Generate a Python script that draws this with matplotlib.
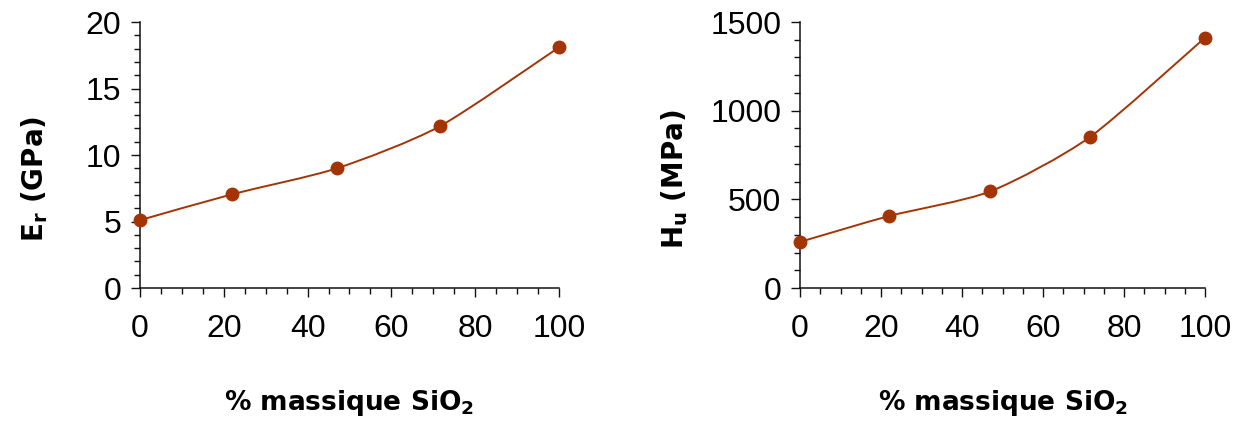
import numpy as np
import matplotlib
matplotlib.use("Agg")
from matplotlib import pyplot as plt
from matplotlib.path import Path
from matplotlib.patches import PathPatch
from matplotlib.ticker import MultipleLocator

# data
sio2 = [0, 22, 47, 71.5, 100]
er_gpa = [5.1, 7.05, 9.0, 12.15, 18.1]
hu_mpa = [260, 406, 545, 850, 1412]

line_color = '#A33505'


def smooth_path(x, y, k=0.12):
    # excel-like smoothed line: cubic bezier segments through the points
    pts = np.column_stack([x, y]).astype(float)
    ext = np.vstack([pts[0], pts, pts[-1]])
    verts = [pts[0]]
    codes = [Path.MOVETO]
    for i in range(1, len(ext) - 2):
        p0, p1, p2, p3 = ext[i - 1], ext[i], ext[i + 1], ext[i + 2]
        c1 = p1 + (p2 - p0) * k
        c2 = p2 - (p3 - p1) * k
        verts += [c1, c2, p2]
        codes += [Path.CURVE4] * 3
    return Path(verts, codes)


def draw_panel(ax, x, y, ymax, ymajor, yminor, ylabel):
    patch = PathPatch(smooth_path(x, y), fill=False, edgecolor=line_color, lw=1.4)
    ax.add_patch(patch)
    ax.plot(x, y, 'o', color=line_color, ms=9, clip_on=False, zorder=3)

    ax.set_xlim(0, 100)
    ax.set_ylim(0, ymax)
    ax.xaxis.set_major_locator(MultipleLocator(20))
    ax.xaxis.set_minor_locator(MultipleLocator(5))
    ax.yaxis.set_major_locator(MultipleLocator(ymajor))
    ax.yaxis.set_minor_locator(MultipleLocator(yminor))

    for side in ['top', 'right']:
        ax.spines[side].set_visible(False)
    for side in ['left', 'bottom']:
        ax.spines[side].set_linewidth(1.1)
        ax.spines[side].set_color('#111111')

    ax.tick_params(which='major', direction='out', length=6.5, width=1.0, color='#111111')
    ax.tick_params(which='minor', direction='out', length=4.5, width=1.0, color='#111111')
    ax.tick_params(axis='x', which='major', pad=12)
    ax.tick_params(axis='y', which='major', pad=7)
    for lab in ax.get_xticklabels() + ax.get_yticklabels():
        lab.set_fontfamily('Liberation Sans')
        lab.set_fontsize(23)

    ax.set_xlabel(r'% massique SiO$_\mathbf{2}$', fontsize=19, fontweight='bold',
                  fontfamily='DejaVu Sans', labelpad=32)
    ax.set_ylabel(ylabel, fontsize=20, fontweight='bold', fontfamily='DejaVu Sans')


def main():
    plt.rcParams['mathtext.fontset'] = 'dejavusans'
    plt.rcParams['mathtext.default'] = 'bf'

    fig = plt.figure(figsize=(12.4, 4.21), dpi=100)
    ax1 = fig.add_axes([0.1129, 0.3159, 0.3379, 0.6318])
    ax2 = fig.add_axes([0.6452, 0.3159, 0.3266, 0.6318])

    draw_panel(ax1, sio2, er_gpa, 20, 5, 1, r'E$_\mathbf{r}$ (GPa)')
    draw_panel(ax2, sio2, hu_mpa, 1500, 500, 100, r'H$_\mathbf{u}$ (MPa)')

    # y labels sit a bit below the axes centre, ending near x=45 px / 686 px
    ax1.yaxis.set_label_coords((50 - 140) / 419.0, 0.41)
    ax2.yaxis.set_label_coords((690 - 800) / 405.0, 0.41)

    fig.savefig('out.png', dpi=100)


if __name__ == "__main__":
    main()
